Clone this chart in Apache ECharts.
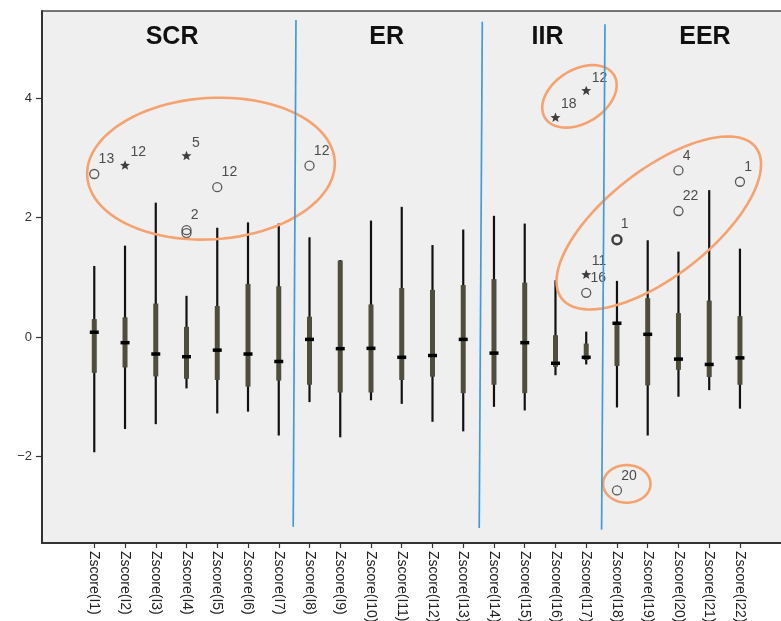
<!DOCTYPE html>
<html>
<head>
<meta charset="utf-8">
<script src="https://cdn.jsdelivr.net/npm/echarts@6/dist/echarts.min.js"></script>
<style>
html,body{margin:0;padding:0;background:#fff;}
#main{width:781px;height:621px;}
</style>
</head>
<body>
<div id="main"></div>
<script>
// ---- data ----
const categories = ['Zscore(I1)','Zscore(I2)','Zscore(I3)','Zscore(I4)','Zscore(I5)','Zscore(I6)','Zscore(I7)','Zscore(I8)','Zscore(I9)','Zscore(I10)','Zscore(I11)','Zscore(I12)','Zscore(I13)','Zscore(I14)','Zscore(I15)','Zscore(I16)','Zscore(I17)','Zscore(I18)','Zscore(I19)','Zscore(I20)','Zscore(I21)','Zscore(I22)'];
const lowWhisker  = [-1.93,-1.54,-1.46,-0.86,-1.28,-1.25,-1.65,-1.09,-1.68,-1.06,-1.12,-1.42,-1.58,-1.17,-1.23,-0.64,-0.46,-1.18,-1.65,-1.00,-0.89,-1.20];
const q1Values    = [-0.60,-0.51,-0.66,-0.70,-0.72,-0.83,-0.73,-0.80,-0.93,-0.93,-0.72,-0.665,-0.94,-0.80,-0.94,-0.50,-0.385,-0.485,-0.81,-0.55,-0.67,-0.80];
const medianValues= [0.08,-0.095,-0.285,-0.33,-0.22,-0.285,-0.41,-0.04,-0.195,-0.19,-0.34,-0.31,-0.04,-0.27,-0.095,-0.44,-0.34,0.23,0.045,-0.37,-0.46,-0.35];
const q3Values    = [0.30,0.33,0.56,0.17,0.52,0.89,0.85,0.34,1.28,0.545,0.82,0.79,0.87,0.97,0.91,0.03,-0.11,0.23,0.65,0.40,0.61,0.35];
const highWhisker = [1.19,1.53,2.25,0.69,1.83,1.92,1.90,1.67,1.29,1.95,2.18,1.54,1.80,2.03,1.90,0.95,0.09,0.94,1.62,1.43,2.46,1.48];

const outlierCategory = [1,2,4,4,4,5,8,16,17,17,17,18,18,20,20,22];
const outlierValue    = [2.73,2.88,3.04,1.79,1.74,2.51,2.87,3.68,4.13,1.05,0.74,1.63,-2.57,2.79,2.11,2.60];
const outlierKind     = ['o','*','*','o','o','o','o','*','*','*','o','o','o','o','o','o'];
const outlierLabel    = ['13','12','5','2','','12','12','18','12','11','16','1','20','4','22','1'];

const yTickValues = [-2,0,2,4];

const regionNames = ['SCR','ER','IIR','EER'];

// ---- annotation layout (not data) ----
const regionX = [3.53,10.51,15.74,20.86];
const regionY = 5.02;
const dividerTop = [[7.56,5.31],[13.62,5.28],[17.61,5.24]];
const dividerBottom = [[7.47,-3.18],[13.52,-3.20],[17.50,-3.23]];
const ellipseCenter = [[4.795,2.82],[16.78,4.03],[19.36,1.91],[18.32,-2.46]];
const ellipseRx = [124,40.6,123,23.7];
const ellipseRy = [70.7,26.7,53,18.8];
const ellipseAngle = [3.5,32,38,0];
const boldOutlierIndex = [11];

const FONT = '"Liberation Sans", Arial, sans-serif';
const xTicks = categories.map((c,i)=>i+1);

const boxData = categories.map((c,i)=>[i+1, lowWhisker[i], q1Values[i], medianValues[i], q3Values[i], highWhisker[i]]);
const circleData = [], starData = [];
outlierCategory.forEach((c,i)=>{
  const item = {value:[c, outlierValue[i], outlierLabel[i]]};
  if (boldOutlierIndex.indexOf(i) >= 0) item.itemStyle = {borderWidth:2.4, borderColor:'#111'};
  if (outlierKind[i] === '*') starData.push(item); else circleData.push(item);
});

const starPath = 'path://M0,-10 L2.6,-3.4 L9.5,-3.1 L4.1,1.3 L5.9,8.1 L0,4.2 L-5.9,8.1 L-4.1,1.3 L-9.5,-3.1 L-2.6,-3.4 Z';

const chart = echarts.init(document.getElementById('main'), null, {renderer:'canvas'});
const option = {
  animation:false,
  backgroundColor:'#ffffff',
  grid:{left:42, right:-2, top:11, bottom:78, containLabel:false, outerBoundsMode:'none', show:true, backgroundColor:'#efefef', borderColor:'#4a4a4a', borderWidth:1.5},
  xAxis:{
    type:'value', min:-0.70, max:23.40,
    axisLine:{show:true, onZero:false, lineStyle:{color:'#333', width:2}},
    axisTick:{show:true, customValues:xTicks, length:5, lineStyle:{color:'#333', width:1.2}},
    axisLabel:{show:true, customValues:xTicks, rotate:-90, margin:8, fontSize:14, color:'#222', fontFamily:FONT,
      formatter:function(v){ return categories[Math.round(v)-1] || ''; }},
    splitLine:{show:false}
  },
  yAxis:{
    type:'value', min:-3.45, max:5.46,
    axisLine:{show:true, onZero:false, lineStyle:{color:'#333', width:2}},
    axisTick:{show:true, customValues:yTickValues, length:6, lineStyle:{color:'#333', width:1.2}},
    axisLabel:{show:true, customValues:yTickValues, margin:10, fontSize:13, color:'#333', fontFamily:FONT,
      formatter:function(v){ return String(v).replace('-', '\u2212'); }},
    splitLine:{show:false}
  },
  series:[
    {
      type:'custom', name:'box', z:2,
      data:boxData,
      encode:{x:0, y:[1,2,3,4,5]},
      renderItem:function(params, api){
        const x = api.value(0);
        const pl = api.coord([x, api.value(1)]);
        const pq1 = api.coord([x, api.value(2)]);
        const pm = api.coord([x, api.value(3)]);
        const pq3 = api.coord([x, api.value(4)]);
        const ph = api.coord([x, api.value(5)]);
        return {type:'group', children:[
          {type:'line', shape:{x1:pl[0], y1:pl[1], x2:ph[0], y2:ph[1]}, style:{stroke:'#111', lineWidth:2.2}},
          {type:'rect', shape:{x:pq3[0]-2.5, y:pq3[1], width:5, height:Math.max(pq1[1]-pq3[1],1)}, style:{fill:'#4f4d3c'}},
          {type:'rect', shape:{x:pm[0]-4.5, y:pm[1]-1.75, width:9, height:3.5}, style:{fill:'#000'}}
        ]};
      }
    },
    {
      type:'scatter', name:'outliers', z:3,
      data:circleData,
      symbol:'circle', symbolSize:9,
      itemStyle:{color:'rgba(0,0,0,0)', borderColor:'#333', borderWidth:1.3},
      label:{show:true, position:[9.5,-16.5], formatter:function(p){return p.value[2];}, fontSize:14, color:'#222', fontFamily:FONT}
    },
    {
      type:'scatter', name:'extremes', z:3,
      data:starData,
      symbol:starPath, symbolSize:10, symbolKeepAspect:true,
      itemStyle:{color:'#111'},
      label:{show:true, position:[10.5,-15], formatter:function(p){return p.value[2];}, fontSize:14, color:'#222', fontFamily:FONT}
    },
    {
      type:'custom', name:'ellipses', z:4, silent:true,
      data:ellipseCenter,
      encode:{x:0, y:1},
      renderItem:function(params, api){
        const i = params.dataIndex;
        const c = api.coord([api.value(0), api.value(1)]);
        const a = ellipseAngle[i]*Math.PI/180, rx = ellipseRx[i], ry = ellipseRy[i];
        const pts = [];
        for (let k=0;k<=96;k++){
          const t = k/96*2*Math.PI;
          const px = rx*Math.cos(t), py = ry*Math.sin(t);
          pts.push([c[0] + px*Math.cos(a) + py*Math.sin(a), c[1] - px*Math.sin(a) + py*Math.cos(a)]);
        }
        return {type:'polygon', shape:{points:pts}, style:{fill:'none', stroke:'#f5a26f', lineWidth:2.6}};
      }
    },
    {
      type:'custom', name:'dividers', z:5, silent:true,
      data:dividerTop.map((t,i)=>[t[0], t[1], dividerBottom[i][0], dividerBottom[i][1]]),
      encode:{x:[0,2], y:[1,3]},
      renderItem:function(params, api){
        const p1 = api.coord([api.value(0), api.value(1)]);
        const p2 = api.coord([api.value(2), api.value(3)]);
        return {type:'line', shape:{x1:p1[0], y1:p1[1], x2:p2[0], y2:p2[1]}, style:{stroke:'#3f9be0', lineWidth:1.7}};
      }
    },
    {
      type:'custom', name:'regions', z:5, silent:true,
      data:regionNames.map((n,i)=>[regionX[i], regionY, n]),
      encode:{x:0, y:1},
      renderItem:function(params, api){
        const p = api.coord([api.value(0), api.value(1)]);
        return {type:'text', x:p[0], y:p[1], style:{text:regionNames[params.dataIndex], fill:'#111', font:'bold 25px '+FONT, align:'center', verticalAlign:'middle'}};
      }
    }
  ]
};
chart.setOption(option);
</script>
</body>
</html>
